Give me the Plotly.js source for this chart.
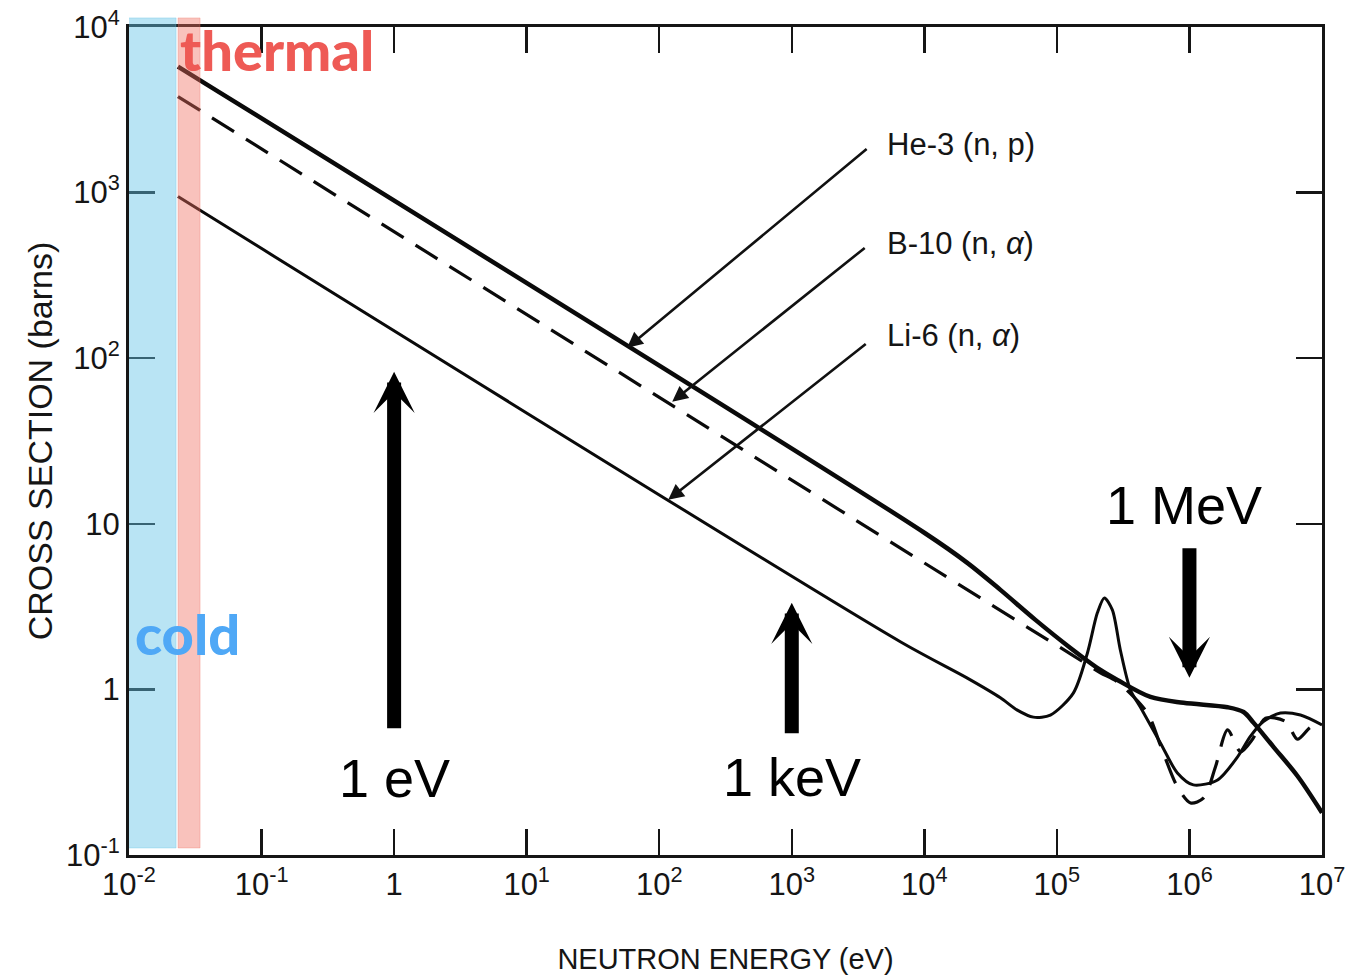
<!DOCTYPE html>
<html><head><meta charset="utf-8">
<script src="https://cdn.plot.ly/plotly-3.0.1.min.js"></script>
<style>html,body{margin:0;padding:0;background:#fff}#chart{width:1348px;height:978px}</style>
</head><body><div id="chart"></div>
<script>
// ---- data (energy in eV, cross section in barns) ----
const he3Energy = [0.0234, 1e4, 2.11e4, 3.75e4, 6.89e4, 1.265e5, 2.13e5, 2.86e5, 5.08e5, 9.02e5, 1.94e6, 2.56e6, 3.04e6, 4.30e6, 6.53e6, 1e7];
const he3Sigma  = [5770, 8.83, 5.81, 3.99, 2.63, 1.78, 1.31, 1.14, 0.90, 0.83, 0.78, 0.73, 0.63, 0.45, 0.30, 0.18];

const b10Energy = [0.0234, 5.03e4, 1.265e5, 2.13e5, 2.86e5, 4.82e5, 6.04e5, 8.11e5, 1.02e6, 1.28e6, 1.57e6, 1.94e6, 2.43e6, 2.99e6, 3.75e6, 5.31e6, 6.53e6, 8.19e6, 1e7];
const b10Sigma  = [3800, 2.59, 1.64, 1.26, 1.11, 0.72, 0.46, 0.258, 0.206, 0.221, 0.34, 0.57, 0.42, 0.50, 0.67, 0.64, 0.50, 0.59, 0.61];

const li6Energy = [0.0234, 6.59e3, 2.11e4, 3.75e4, 5.03e4, 6.65e4, 8.93e4, 1.33e5, 1.70e5, 2.02e5, 2.28e5, 2.62e5, 3.01e5, 3.59e5, 4.27e5, 6.04e5, 8.11e5, 1.07e6, 1.63e6, 2.30e6, 2.88e6, 3.61e6, 4.86e6, 6.88e6, 1e7];
const li6Sigma  = [946, 1.94, 1.17, 0.89, 0.75, 0.68, 0.70, 0.95, 1.66, 2.90, 3.57, 3.02, 1.73, 0.99, 0.78, 0.475, 0.313, 0.265, 0.284, 0.39, 0.52, 0.64, 0.72, 0.70, 0.61];

const seriesNames = ['He-3 (n, p)', 'B-10 (n, α)', 'Li-6 (n, α)'];

const xTickVals = [1e-2, 1e-1, 1, 1e1, 1e2, 1e3, 1e4, 1e5, 1e6, 1e7];
const xTickText = ['10<sup>-2</sup>', '10<sup>-1</sup>', '1', '10<sup>1</sup>', '10<sup>2</sup>', '10<sup>3</sup>', '10<sup>4</sup>', '10<sup>5</sup>', '10<sup>6</sup>', '10<sup>7</sup>'];
const yTickVals = [1e-1, 1, 10, 1e2, 1e3, 1e4];
const yTickText = ['10<sup>-1</sup>', '1', '10', '10<sup>2</sup>', '10<sup>3</sup>', '10<sup>4</sup>'];

// energy bands (eV)
const coldBand = [0.00983, 0.02265];
const thermalBand = [0.02344, 0.03436];

// markers of energy scale (eV)
const markerEnergies = [1, 1e3, 1e6];
const markerLabels = ['1 eV', '1 keV', '1 MeV'];

// ---- drawing ----
const tickFont = {family: '"Liberation Sans", Arial, sans-serif', size: 31, color: '#151515'};
const textFont = {family: '"Liberation Sans", Arial, sans-serif', color: '#151515'};

const traces = [
  {x: he3Energy, y: he3Sigma, name: seriesNames[0], mode: 'lines', line: {color: '#0a0a0a', width: 4.5, shape: 'spline', smoothing: 0.9}},
  {x: b10Energy, y: b10Sigma, name: seriesNames[1], mode: 'lines', line: {color: '#0a0a0a', width: 3.2, dash: '26px,14px', shape: 'spline', smoothing: 0.8}},
  {x: li6Energy, y: li6Sigma, name: seriesNames[2], mode: 'lines', line: {color: '#0a0a0a', width: 3, shape: 'spline', smoothing: 0.8}}
];

const L10 = Math.log10;
const bigFont = {family: '"Liberation Sans", Arial, sans-serif', size: 54, color: '#000'};

const annotations = [
  // big energy arrows
  {x: L10(markerEnergies[0]), y: 1.918, xref: 'x', yref: 'y', ax: 0, ay: 358, text: '', showarrow: true, arrowhead: 3, arrowsize: 0.49, arrowwidth: 14, arrowcolor: '#000'},
  {x: L10(markerEnergies[1]), y: 0.523, xref: 'x', yref: 'y', ax: 0, ay: 132, text: '', showarrow: true, arrowhead: 3, arrowsize: 0.49, arrowwidth: 14, arrowcolor: '#000'},
  {x: L10(markerEnergies[2]), y: 0.070, xref: 'x', yref: 'y', ax: 0, ay: -131, text: '', showarrow: true, arrowhead: 3, arrowsize: 0.49, arrowwidth: 14, arrowcolor: '#000'},
  {x: L10(markerEnergies[0]), y: -0.535, xref: 'x', yref: 'y', text: markerLabels[0], showarrow: false, xanchor: 'center', yanchor: 'middle', font: bigFont},
  {x: L10(markerEnergies[1]), y: -0.529, xref: 'x', yref: 'y', text: markerLabels[1], showarrow: false, xanchor: 'center', yanchor: 'middle', font: bigFont},
  {x: 5.96, y: 1.115, xref: 'x', yref: 'y', text: markerLabels[2], showarrow: false, xanchor: 'center', yanchor: 'middle', font: bigFont},
  // series pointer arrows
  {x: 1.758, y: 2.063, xref: 'x', yref: 'y', ax: 241, ay: -200, text: '', showarrow: true, arrowhead: 2, arrowsize: 1.2, arrowwidth: 2.6, arrowcolor: '#111'},
  {x: 2.098, y: 1.737, xref: 'x', yref: 'y', ax: 194, ay: -155, text: '', showarrow: true, arrowhead: 2, arrowsize: 1.2, arrowwidth: 2.6, arrowcolor: '#111'},
  {x: 2.068, y: 1.145, xref: 'x', yref: 'y', ax: 199, ay: -157, text: '', showarrow: true, arrowhead: 2, arrowsize: 1.2, arrowwidth: 2.6, arrowcolor: '#111'},
  // series labels
  {x: 0.6337, y: 0.8575, xref: 'paper', yref: 'paper', text: seriesNames[0], showarrow: false, xanchor: 'left', yanchor: 'middle', font: Object.assign({size: 31}, textFont)},
  {x: 0.6337, y: 0.7391, xref: 'paper', yref: 'paper', text: 'B-10 (n, <i>α</i>)', showarrow: false, xanchor: 'left', yanchor: 'middle', font: Object.assign({size: 31}, textFont)},
  {x: 0.6337, y: 0.6280, xref: 'paper', yref: 'paper', text: 'Li-6 (n, <i>α</i>)', showarrow: false, xanchor: 'left', yanchor: 'middle', font: Object.assign({size: 31}, textFont)},
  // band labels
  {x: 0.041, y: 0.9734, xref: 'paper', yref: 'paper', text: 'thermal', showarrow: false, xanchor: 'left', yanchor: 'middle', font: {family: 'Lato, "Open Sans", sans-serif', size: 56, color: '#ee5a55', weight: 900}},
  {x: 0.0034, y: 0.2681, xref: 'paper', yref: 'paper', text: 'cold', showarrow: false, xanchor: 'left', yanchor: 'middle', font: {family: 'Lato, "Open Sans", sans-serif', size: 56, color: '#4fa8f6', weight: 900}}
];

const shapes = [
  {type: 'rect', xref: 'x', yref: 'paper', x0: coldBand[0], x1: coldBand[1], y0: 0.0085, y1: 1.011, fillcolor: 'rgba(100,195,230,0.45)', line: {width: 1, color: 'rgba(100,195,230,0.35)'}, layer: 'above'},
  {type: 'rect', xref: 'x', yref: 'paper', x0: thermalBand[0], x1: thermalBand[1], y0: 0.0085, y1: 1.011, fillcolor: 'rgba(240,110,95,0.42)', line: {width: 1, color: 'rgba(240,110,95,0.3)'}, layer: 'above'}
];

const axisCommon = {
  ticks: 'inside', ticklen: 26, tickwidth: 2.5, tickcolor: '#151515',
  showline: true, linewidth: 3, linecolor: '#151515', mirror: 'ticks',
  showgrid: false, zeroline: false, tickfont: tickFont, automargin: false
};

const layout = {
  width: 1348, height: 978,
  margin: {l: 129, r: 26, t: 27, b: 123},
  paper_bgcolor: '#ffffff', plot_bgcolor: '#ffffff',
  showlegend: false,
  xaxis: Object.assign({}, axisCommon, {
    type: 'log', range: [-2, 7], tickmode: 'array', tickvals: xTickVals, ticktext: xTickText,
    title: {text: 'NEUTRON ENERGY (eV)', font: Object.assign({size: 29}, textFont), standoff: 48}
  }),
  yaxis: Object.assign({}, axisCommon, {
    type: 'log', range: [-1, 4], tickmode: 'array', tickvals: yTickVals, ticktext: yTickText,
    title: {text: 'CROSS SECTION (barns)', font: Object.assign({size: 34}, textFont), standoff: 4}
  }),
  annotations: annotations,
  shapes: shapes
};

Plotly.newPlot('chart', traces, layout, {displayModeBar: false, staticPlot: true});
</script>
</body></html>
